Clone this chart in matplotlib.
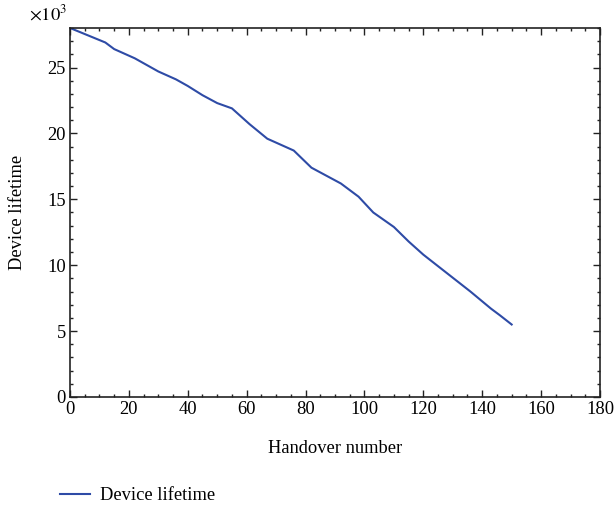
import matplotlib
matplotlib.use("Agg")
import matplotlib.pyplot as plt
from matplotlib.ticker import MultipleLocator, FuncFormatter

plt.rcParams['font.family'] = ['Liberation Serif', 'DejaVu Serif']
plt.rcParams['mathtext.fontset'] = 'stix'

# Handover number vs. remaining device lifetime
handover = [0, 12, 15, 22, 30, 36, 40, 45, 50, 55, 61, 67, 76, 82, 92, 98,
            103, 110, 115, 120, 128, 136, 143, 146, 150]
lifetime = [28000, 26900, 26400, 25700, 24700, 24100, 23600, 22900, 22300,
            21900, 20700, 19600, 18700, 17400, 16200, 15200, 14000, 12900,
            11800, 10800, 9400, 8000, 6700, 6200, 5500]

x_ticks = [0, 20, 40, 60, 80, 100, 120, 140, 160, 180]
y_ticks = [0, 5000, 10000, 15000, 20000, 25000]

fs = 13.3
fig = plt.figure(figsize=(6.15, 5.07), dpi=100)
ax = fig.add_axes([0.1138, 0.2170, 0.8618, 0.7278])

line, = ax.plot(handover, lifetime, color='#2E4BA6', lw=1.5,
                label='Device lifetime')

ax.set_xlim(0, 180)
ax.set_ylim(0, 28000)
ax.set_xticks(x_ticks)
ax.set_yticks(y_ticks)
ax.xaxis.set_minor_locator(MultipleLocator(5))
ax.yaxis.set_minor_locator(MultipleLocator(1000))
ax.yaxis.set_major_formatter(FuncFormatter(lambda v, p: f"{v/1000:g}"))
ax.tick_params(which='both', direction='in', top=True, right=True,
               labelsize=fs, color='#222222', width=1.0)
ax.tick_params(which='major', length=5, pad=3)
ax.tick_params(which='minor', length=2.5)
for s in ax.spines.values():
    s.set_color('#222222')
    s.set_linewidth(1.2)

ax.set_xlabel('Handover number', fontsize=fs, labelpad=16)
ax.set_ylabel('Device lifetime', fontsize=fs, labelpad=15)
ax.text(-0.005, 1.012, r'$\times 10^3$', transform=ax.transAxes,
        ha='right', va='bottom', fontsize=fs)

fig.legend(handles=[line], loc='lower left', bbox_to_anchor=(0.0975, 0.005),
           borderaxespad=0, borderpad=0, frameon=False, fontsize=fs,
           handlelength=1.62, handletextpad=0.55)

fig.savefig('out.png', dpi=100)
